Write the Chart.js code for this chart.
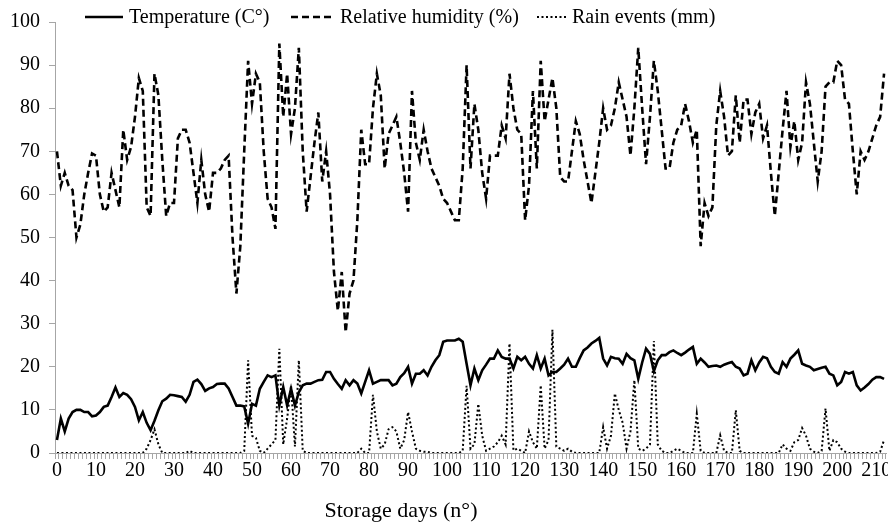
<!DOCTYPE html>
<html>
<head>
<meta charset="utf-8">
<script src="https://cdn.jsdelivr.net/npm/chart.js@4.4.0/dist/chart.umd.min.js"></script>
<style>
  html, body { margin: 0; padding: 0; background: #fff; }
  #wrap { width: 888px; height: 529px; }
</style>
</head>
<body>
<div id="wrap"><canvas id="chart"></canvas></div>
<script>
// storage days 0..212 (category axis)
const days = Array.from({ length: 213 }, (_, i) => i);

// Temperature (C°)
const temperature = [
  3, 8, 5, 8, 9.5, 10, 10, 9.5, 9.5, 8.5,
  8.7, 9.5, 10.7, 11, 13, 15.2, 13, 13.9, 13.5, 12.5,
  10.7, 7.6, 9.5, 7, 5.3, 7.5, 9.9, 12, 12.6, 13.5,
  13.4, 13.2, 13, 11.9, 13.5, 16.5, 17, 16, 14.4, 15,
  15.3, 16, 16.1, 16.1, 15, 13, 11, 11, 10.8, 6.8,
  11.4, 11, 14.9, 16.5, 18, 17.6, 18, 11, 15.3, 11,
  14.9, 11, 14.1, 15.7, 16.1, 16.1, 16.5, 16.9, 17, 18.8,
  18.8, 17.2, 16, 14.9, 16.9, 15.7, 16.9, 16.1, 13.8, 16.5,
  19.2, 16.1, 16.5, 16.9, 16.9, 16.9, 15.7, 16.1, 17.6, 18.5,
  20, 16.1, 18.4, 18.4, 19.2, 18, 20, 21.5, 22.7, 25.8,
  26.1, 26.1, 26.1, 26.5, 25.8, 20.7, 15.7, 19.6, 16.9, 19.2,
  20.5, 21.9, 21.9, 23.8, 22.3, 21.9, 21.9, 19.6, 22.3, 21.5,
  22.3, 20.7, 19.6, 22.7, 19.6, 21.9, 18, 18.8, 18.8, 19.6,
  20.5, 21.9, 20, 20, 22, 23.8, 24.5, 25.4, 26, 26.7,
  21.9, 20.3, 22.3, 22, 21.9, 20.7, 23, 22, 21.5, 17.2,
  21, 24.2, 23, 19, 21.5, 22.7, 22.7, 23.4, 23.8, 23.2,
  22.7, 23.3, 24, 24.6, 20.7, 21.9, 21, 20, 20.2, 20.3,
  20, 20.5, 20.8, 21.1, 20, 19.6, 18, 18.4, 21.5, 19.2,
  21, 22.3, 22, 20, 18.8, 18.4, 21.1, 20, 21.9, 22.8,
  23.8, 20.7, 20.3, 20, 19.2, 19.5, 19.8, 20, 18.4, 18,
  15.7, 16.5, 18.8, 18.4, 18.8, 15.7, 14.5, 15.2, 16, 17,
  17.6, 17.6, 17.2
];

// Relative humidity (%), dashed line
const humidity = [
  70, 62, 65, 62, 61, 50, 53, 60, 65, 69.5,
  69, 60, 56, 57, 65, 61, 57, 75, 68, 71,
  78, 87, 84, 57, 55, 88, 83, 68, 55, 58,
  58, 73, 75, 75, 72, 65, 58, 68, 60, 56,
  65, 65, 66, 68, 69, 50, 37, 48, 70, 91,
  81, 88, 86, 70, 59, 57, 52, 95, 78, 88,
  74, 80, 94, 70, 56, 64, 72, 79, 63, 70,
  60, 42, 33, 42, 28, 37, 40, 54, 75, 67,
  67, 80, 88, 83, 66, 74, 76, 78, 72, 65,
  56, 84, 72, 68, 75, 70, 66, 64, 62, 59,
  58, 56, 54, 54, 66, 90, 66, 81, 75, 65,
  59, 69, 69, 69, 76, 73, 88, 80, 75, 74,
  54, 62, 84, 66, 91, 77, 82, 87, 80, 64,
  63, 63, 70, 77, 74, 68, 63, 58, 65, 72,
  80, 75, 76, 80, 86, 82, 78, 69, 80, 94,
  80, 67, 78, 91, 84, 75, 66, 66, 72, 75,
  76, 81, 77, 72, 75, 48, 58, 55, 57, 76,
  84, 78, 69, 70, 83, 72, 82, 82, 74, 79,
  81, 73, 76, 65, 55, 65, 75, 84, 71, 77,
  68, 72, 86, 81, 72, 63, 70, 85, 86, 86,
  91, 90, 82, 81, 70, 60, 70, 68, 70, 73,
  76, 78, 88
];

// Rain events (mm), dotted line
const rain = [
  0, 0, 0, 0, 0, 0, 0, 0, 0, 0,
  0, 0, 0, 0, 0, 0, 0, 0, 0, 0,
  0, 0, 0, 1, 3, 5.5, 2, 0, 0, 0,
  0, 0, 0, 0, 0.5, 0, 0, 0, 0, 0,
  0, 0, 0, 0, 0, 0, 0, 0, 0.5, 21.5,
  4, 3.5, 0.5, 0, 1, 2, 3, 24.2, 2, 8,
  15.7, 1.5, 21.5, 0.5, 0, 0, 0, 0, 0, 0,
  0, 0, 0, 0, 0, 0, 0, 0, 1, 0,
  0, 13.5, 5, 1, 2, 5.5, 6, 5, 1, 3,
  9.5, 5, 1, 0.5, 0.3, 0.3, 0, 0, 0, 0,
  0, 0, 0, 0, 0.5, 15.6, 1, 2, 11.4, 4,
  0.5, 1, 1.5, 2.5, 4, 2, 25.4, 0.6, 1, 0.5,
  0, 5, 2.5, 1, 15.7, 1, 3, 28.6, 1.5, 1,
  0.5, 1, 0.3, 0, 0, 0, 0, 0, 0, 0,
  6, 1, 4, 13.8, 10, 7, 1, 5, 16.9, 1,
  0.5, 1, 2, 26, 2, 0.5, 0, 0, 0.5, 1,
  0.5, 0, 0, 0, 9.1, 0.5, 0, 0, 0, 0,
  4.1, 0.5, 0, 0, 9.9, 0.5, 0, 0, 0, 0,
  0, 0, 0, 0, 0, 0, 2, 1, 0.5, 2.5,
  3, 5.8, 4, 1, 0.3, 0, 0.5, 10.3, 0.5, 3,
  2.5, 1, 0.3, 0, 0, 0, 0, 0, 0, 0,
  0, 0.3, 3
];

const seriesLabels = ['Temperature (C°)', 'Relative humidity (%)', 'Rain events (mm)'];
const xTitle = 'Storage days (n°)';

const serif = '"Liberation Serif", "Times New Roman", serif';
const axisGrey = '#a6a6a6';

// legend sits above the plot, overlapping the top margin like the original
const legendSlots = [
  { x: 85, w: 38, text: 129 },
  { x: 291, w: 40, text: 340 },
  { x: 537, w: 31, text: 572 }
];

// legend + x title drawn by hand (original puts the title left of centre)
const extras = {
  id: 'extras',
  afterDraw(chart) {
    const ctx = chart.ctx;
    const y = 17;
    ctx.save();
    ctx.font = '20px ' + serif;
    ctx.textBaseline = 'middle';
    ctx.fillStyle = '#000';
    chart.data.datasets.forEach((ds, i) => {
      const s = legendSlots[i];
      ctx.strokeStyle = ds.borderColor;
      ctx.lineWidth = ds.borderWidth;
      ctx.setLineDash(ds.borderDash || []);
      ctx.beginPath();
      ctx.moveTo(s.x, y);
      ctx.lineTo(s.x + s.w, y);
      ctx.stroke();
      ctx.setLineDash([]);
      ctx.fillText(ds.label, s.text, y + 1);
    });

    ctx.font = '22px ' + serif;
    ctx.textAlign = 'center';
    ctx.fillText(xTitle, 401, 511);
    ctx.restore();
  }
};

new Chart(document.getElementById('chart'), {
  type: 'line',
  data: {
    labels: days,
    datasets: [
      {
        label: seriesLabels[0],
        data: temperature,
        borderColor: '#000',
        borderWidth: 2.6,
        pointRadius: 0,
        tension: 0
      },
      {
        label: seriesLabels[1],
        data: humidity,
        borderColor: '#000',
        borderWidth: 2.6,
        borderDash: [7, 4],
        pointRadius: 0,
        tension: 0
      },
      {
        label: seriesLabels[2],
        data: rain,
        borderColor: '#000',
        borderWidth: 2,
        borderDash: [2, 2.5],
        pointRadius: 0,
        tension: 0
      }
    ]
  },
  options: {
    responsive: true,
    maintainAspectRatio: false,
    animation: false,
    layout: { padding: { top: 22, right: 2, left: 0, bottom: 0 } },
    plugins: {
      legend: { display: false },
      tooltip: { enabled: false }
    },
    scales: {
      x: {
        type: 'category',
        offset: true,
        grid: {
          drawOnChartArea: false,
          drawTicks: true,
          tickLength: 6,
          color: axisGrey,
          offset: true
        },
        border: { color: axisGrey },
        ticks: {
          autoSkip: false,
          maxRotation: 0,
          minRotation: 0,
          padding: 0,
          color: '#000',
          font: { family: serif, size: 20 },
          callback: function (val, i) {
            return i % 10 === 0 ? this.getLabelForValue(val) : '';
          }
        },
        afterFit: (s) => { s.height = 76; }
      },
      y: {
        min: 0,
        max: 100,
        grid: {
          drawOnChartArea: false,
          tickLength: 6,
          color: axisGrey
        },
        border: { color: axisGrey },
        ticks: {
          stepSize: 10,
          padding: 9,
          color: '#000',
          font: { family: serif, size: 20 }
        },
        afterFit: (s) => { s.width = 55; }
      }
    }
  },
  plugins: [extras]
});
</script>
</body>
</html>
